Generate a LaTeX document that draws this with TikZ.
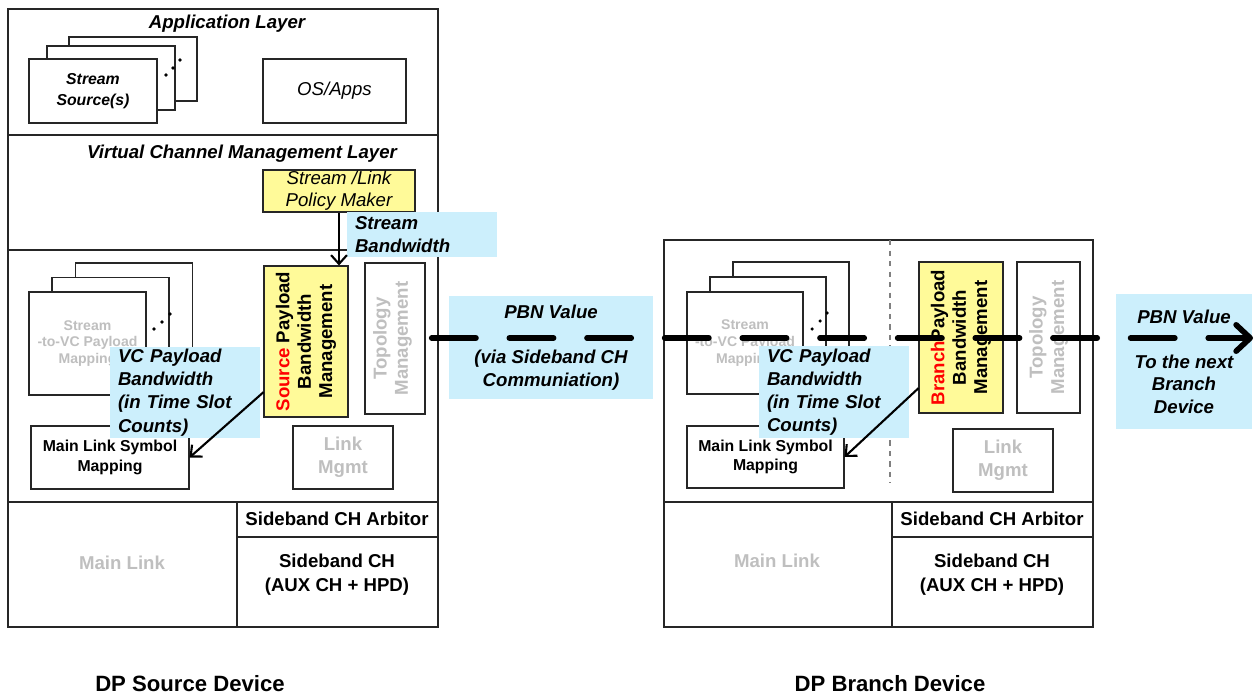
\documentclass[tikz,border=0pt]{standalone}
\usepackage{fontspec}
\setmainfont{Liberation Sans}
\usetikzlibrary{arrows.meta}

\begin{document}
\begin{tikzpicture}[x=0.02cm,y=-0.02cm,
  frame/.style={draw=black!85,line width=0.6pt},
  box/.style={draw=black!85,line width=0.6pt,fill=white,inner sep=0pt},
  ybox/.style={box,fill=yellow!40},
  big/.style={font=\fontsize{10.6}{13}\selectfont\bfseries},
  bigit/.style={font=\fontsize{10.6}{13}\selectfont\bfseries\itshape},
  gtxt/.style={text=black!25},
  note/.style={fill=cyan!20,inner xsep=0.16cm,inner ysep=0pt,text width=2.68cm,align=left,font=\fontsize{10.6}{13}\selectfont\bfseries\itshape},
  cnote/.style={fill=cyan!20,inner sep=0pt,align=center,font=\fontsize{10.6}{13}\selectfont\bfseries\itshape},
  arr/.style={line width=1.2pt,-{Straight Barb[length=5pt,width=9pt]}},
  pbnline/.style={line width=3.2pt,line cap=round,dash pattern=on 25.2pt off 19pt,shorten <=3.5pt,-{Straight Barb[length=8pt,width=15pt,round]}}]
\useasboundingbox (0,0) rectangle (1254,696);
\draw[frame] (8,9) rectangle (438,627);
\draw[frame] (8,135) -- (438,135);
\draw[frame] (8,250) -- (438,250);
\draw[frame] (8,502) -- (438,502);
\draw[frame] (237,502) -- (237,627);
\draw[frame] (237,537) -- (438,537);
\draw[frame] (664,240) rectangle (1093,627);
\draw[frame] (664,502) -- (1093,502);
\draw[frame] (892,502) -- (892,627);
\draw[frame] (892,537) -- (1093,537);
\draw[black!50,dashed,line width=0.6pt] (890,240) -- (890,483);
\node[bigit] (appl) at (227,24) {Application Layer};
\node[box,minimum width=2.56cm,minimum height=1.28cm] (ssrc3) at (133,69) {};
\node[box,minimum width=2.56cm,minimum height=1.28cm] (ssrc2) at (111,78) {};
\node[box,minimum width=2.56cm,minimum height=1.28cm,align=center,font=\fontsize{9}{11.9}\selectfont\bfseries\itshape] (ssrc) at (93,91) {Stream\\Source(s)};
\fill (166,75) circle (1pt) (173,68) circle (1pt) (180,60) circle (1pt);
\node[box,minimum width=2.86cm,minimum height=1.28cm,font=\fontsize{10.6}{13}\selectfont\itshape] (osapp) at (334.5,91) {OS/Apps};
\node[bigit] (vcml) at (242,154) {Virtual Channel Management Layer};
\node[ybox,minimum width=3.04cm,minimum height=0.84cm,align=center,font=\fontsize{10.6}{12.5}\selectfont\itshape] (policy) at (339,191) {Stream /Link\\Policy Maker};
\node[note,minimum height=0.9cm] (sbw) at (422,234.5) {Stream\\Bandwidth};
\node[box,minimum width=2.34cm,minimum height=2.06cm] (s2vc3) at (134,314.5) {};
\node[box,minimum width=2.34cm,minimum height=2.06cm] (s2vc2) at (110.5,329) {};
\node[box,gtxt,minimum width=2.34cm,minimum height=2.06cm,align=center,font=\fontsize{8}{9.6}\selectfont\bfseries] (s2vc) at (87.5,343.5) {Stream\\-to-VC Payload\\Mapping};
\fill (154,329) circle (1pt) (162,322) circle (1pt) (170,314) circle (1pt);
\node[ybox,minimum width=1.68cm,minimum height=3.02cm] (spbm) at (306,341.5) {};
\node[big,rotate=90,align=center,font=\fontsize{10.6}{12.2}\selectfont\bfseries] (spbmtxt) at (spbm) {\textcolor{red}{Source} Payload\\Bandwidth\\Management};
\node[box,minimum width=1.2cm,minimum height=3.02cm] (topo) at (395,338.5) {};
\node[gtxt,rotate=90,align=center,font=\fontsize{10.6}{12.2}\selectfont\bfseries] (topotxt) at (392.5,338.5) {Topology\\Management};
\node[box,minimum width=3.16cm,minimum height=1.26cm,align=center,font=\fontsize{9}{11}\selectfont\bfseries] (mlsm) at (110,457.5) {Main Link Symbol\\Mapping};
\node[note,minimum height=1.82cm,font=\fontsize{10.6}{13.2}\selectfont\bfseries\itshape] (vcpb) at (185,392.5) {VC Payload\\Bandwidth\\(in Time Slot\\Counts)};
\node[box,gtxt,minimum width=2cm,minimum height=1.26cm,align=center,big] (linkm) at (343,457.5) {Link\\Mgmt};
\node[big] (arbit) at (337,519) {Sideband CH Arbitor};
\node[big,align=center,font=\fontsize{10.6}{13.6}\selectfont\bfseries] (sideb) at (337,575) {Sideband CH\\(AUX CH + HPD)};
\node[big,gtxt] (mainl) at (122,563) {Main Link};
\node[font=\fontsize{12.6}{15}\selectfont\bfseries] (srcdev) at (190,684) {DP Source Device};
\draw[arr] (policy.south) -- (policy.south |- spbm.north);
\draw[arr] (spbm.230) -- (mlsm.east);
\node[cnote,minimum width=4.08cm,minimum height=2.06cm] (pbn) at (551,347.5) {PBN Value\\[13pt](via Sideband CH\\Communiation)};
\node[box,minimum width=2.32cm,minimum height=2.04cm] (bs2vc3) at (791,313) {};
\node[box,minimum width=2.32cm,minimum height=2.04cm] (bs2vc2) at (768,328) {};
\node[box,gtxt,minimum width=2.32cm,minimum height=2.04cm,align=center,font=\fontsize{8}{9.6}\selectfont\bfseries] (bs2vc) at (745,343) {Stream\\-to-VC Payload\\Mapping};
\fill (812,329) circle (1pt) (820,321) circle (1pt) (827,313) circle (1pt);
\node[box,minimum width=3.14cm,minimum height=1.24cm,align=center,font=\fontsize{9}{11}\selectfont\bfseries] (bmlsm) at (765.5,457) {Main Link Symbol\\Mapping};
\node[note,minimum height=1.84cm,font=\fontsize{10.6}{13.2}\selectfont\bfseries\itshape] (bvcpb) at (834,392) {VC Payload\\Bandwidth\\(in Time Slot\\Counts)};
\node[ybox,minimum width=1.68cm,minimum height=3.02cm] (bpbm) at (961,337.5) {};
\node[big,rotate=90,align=center,font=\fontsize{10.6}{12.2}\selectfont\bfseries] (bpbmtxt) at (bpbm) {\textcolor{red}{Branch}Payload\\Bandwidth\\Management};
\node[box,minimum width=1.26cm,minimum height=3.02cm] (btopo) at (1048.5,337.5) {};
\node[gtxt,rotate=90,align=center,font=\fontsize{10.6}{12.2}\selectfont\bfseries] (btopotxt) at (btopo) {Topology\\Management};
\node[box,gtxt,minimum width=2cm,minimum height=1.26cm,align=center,big] (blinkm) at (1003,460.5) {Link\\Mgmt};
\node[big] (barbit) at (992,519) {Sideband CH Arbitor};
\node[big,align=center,font=\fontsize{10.6}{13.6}\selectfont\bfseries] (bsideb) at (992,575) {Sideband CH\\(AUX CH + HPD)};
\node[big,gtxt] (bmainl) at (777,561) {Main Link};
\node[font=\fontsize{12.6}{15}\selectfont\bfseries] (brdev) at (890,684) {DP Branch Device};
\draw[arr] (bpbm.230) -- (bmlsm.east);
\node[cnote,minimum width=2.72cm,minimum height=2.7cm,font=\fontsize{10.6}{12.8}\selectfont\bfseries\itshape] (nextb) at (1184,361.5) {PBN Value\\[12.8pt]To the next\\Branch\\Device};
\coordinate (pbnend) at (1253,338);
\draw[pbnline] (topo.east |- 0,338) -- (pbnend);
\end{tikzpicture}
\end{document}
